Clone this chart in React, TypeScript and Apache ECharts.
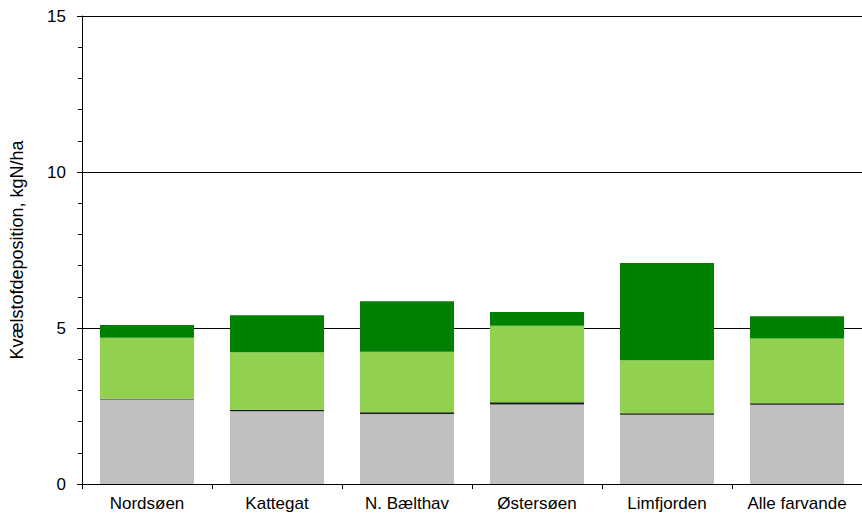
import React, { useEffect, useRef } from "react";
import * as echarts from "echarts";

const categories = ["Nordsøen", "Kattegat", "N. Bælthav", "Østersøen", "Limfjorden", "Alle farvande"];
const grayValues = [2.71, 2.33, 2.24, 2.55, 2.22, 2.54];
const blackValues = [0.02, 0.05, 0.06, 0.07, 0.05, 0.05];
const lightGreenValues = [1.96, 1.84, 1.94, 2.45, 1.70, 2.07];
const darkGreenValues = [0.41, 1.19, 1.62, 0.44, 3.11, 0.72];
const yTicks = [0, 5, 10, 15];

export default function App() {
  const ref = useRef<HTMLDivElement>(null);
  useEffect(() => {
    if (!ref.current) return;
    const chart = echarts.init(ref.current, undefined, { renderer: "svg" });
    const font = "'Liberation Sans', Arial, sans-serif";
    const mk = (name: string, data: number[], color: string) => ({
      name,
      type: "bar",
      stack: "total",
      data,
      barWidth: 94,
      itemStyle: { color },
    });
    chart.setOption({
      animation: false,
      grid: { left: 76, top: 16, width: 789, height: 468, containLabel: false },
      xAxis: {
        type: "category",
        data: categories,
        axisLine: { lineStyle: { color: "#000", width: 1 } },
        axisTick: { show: true, alignWithLabel: false, length: 5, lineStyle: { color: "#000" } },
        axisLabel: { color: "#000", fontSize: 17, fontFamily: font, margin: 11 },
      },
      yAxis: {
        type: "value",
        min: yTicks[0],
        max: yTicks[yTicks.length - 1],
        interval: 5,
        name: "Kvælstofdeposition, kgN/ha",
        nameLocation: "middle",
        nameGap: 56,
        nameTextStyle: { color: "#000", fontSize: 18, fontFamily: font },
        axisLine: { show: true, lineStyle: { color: "#000", width: 1 } },
        axisTick: { show: true, length: 5, lineStyle: { color: "#000" } },
        minorTick: { show: true, splitNumber: 5, length: 4, lineStyle: { color: "#000" } },
        axisLabel: { color: "#000", fontSize: 17, fontFamily: font, margin: 16 },
        splitLine: { show: true, lineStyle: { color: "#000", width: 1 } },
      },
      series: [
        mk("Gray", grayValues, "#C0C0C0"),
        mk("Black", blackValues, "#1a1a1a"),
        mk("LightGreen", lightGreenValues, "#92D050"),
        mk("DarkGreen", darkGreenValues, "#008000"),
      ],
    });
    return () => chart.dispose();
  }, []);
  return <div ref={ref} style={{ width: 862, height: 514, position: "absolute", left: 0, top: 0 }} />;
}
